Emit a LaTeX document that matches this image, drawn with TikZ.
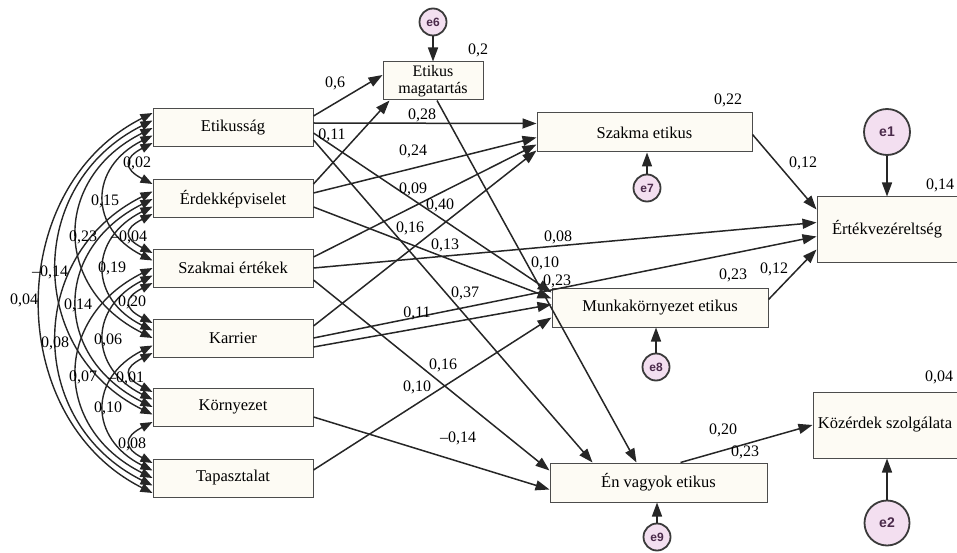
\documentclass[tikz,border=0pt]{standalone}
\usepackage{fontspec}
\setmainfont{Liberation Serif}
\newfontfamily\esans{Liberation Sans}
\usetikzlibrary{arrows.meta,calc}
\definecolor{boxfill}{HTML}{FDFBF4}
\definecolor{efill}{HTML}{F3DFF0}
\definecolor{eborder}{HTML}{3A3A3A}
\definecolor{etext}{HTML}{4A2A4A}
\begin{document}
\begin{tikzpicture}[x=1pt,y=-1pt,
  vbox/.style={draw=black!70, fill=boxfill, line width=1pt, minimum height=38pt, inner sep=1pt, font=\fontsize{16.5}{18}\selectfont, align=center},
  ebub/.style={circle, draw=eborder, fill=efill, line width=1.8pt, inner sep=0pt, minimum size=27pt, font=\esans\bfseries\fontsize{12}{12}\selectfont, text=etext},
  lbl/.style={font=\fontsize{16}{18}\selectfont, inner sep=1pt},
  reg/.style={line width=1.5pt, draw=black!85, -{Triangle[length=14pt,width=10pt]}},
  cov/.style={line width=1.4pt, draw=black!85, {Triangle[length=12pt,width=9pt]}-{Triangle[length=12pt,width=9pt]}},
]
\useasboundingbox (0,0) rectangle (957,553);

% exogenous boxes
\node[vbox, minimum width=160pt] (etik) at (233,128) {Etikusság};
\node[vbox, minimum width=160pt] (erd) at (233,199) {Érdekképviselet};
\node[vbox, minimum width=160pt] (szak) at (233,268) {Szakmai értékek};
\node[vbox, minimum width=160pt] (karr) at (233,338) {Karrier};
\node[vbox, minimum width=160pt] (korny) at (233,407) {Környezet};
\node[vbox, minimum width=160pt] (tap) at (233,478) {Tapasztalat};

% endogenous boxes
\node[vbox, minimum width=100pt, font=\fontsize{16}{17}\selectfont] (em) at (433,81) {Etikus\\magatartás};
\node[vbox, minimum width=215pt, minimum height=39pt] (se) at (644.5,132.5) {Szakma etikus};
\node[vbox, minimum width=140pt, minimum height=65pt] (ev) at (887,229.5) {Értékvezéreltség};
\node[vbox, minimum width=216pt, minimum height=39pt] (mk) at (660,307.5) {Munkakörnyezet etikus};
\node[vbox, minimum width=217pt, minimum height=39pt] (env) at (658.5,482.5) {Én vagyok etikus};
\node[vbox, minimum width=144pt, minimum height=66pt] (ksz) at (885,425) {Közérdek szolgálata};

% error terms
\node[ebub] (e6) at (433,22) {e6};
\node[ebub] (e7) at (647,188) {e7};
\node[ebub, minimum size=46pt, font=\esans\bfseries\fontsize{14}{14}\selectfont] (e1) at (887,132) {e1};
\node[ebub] (e8) at (656,367) {e8};
\node[ebub] (e9) at (657,537) {e9};
\node[ebub, minimum size=45pt, font=\esans\bfseries\fontsize{14}{14}\selectfont] (e2) at (887,523) {e2};

% covariances (left)
% span 1
\draw[cov] ($(etik.west)+(0,15)$) .. controls +(-29,15) and +(-29,-15) .. ($(erd.west)+(0,-15)$);
\draw[cov] ($(erd.west)+(0,15)$) .. controls +(-29,15) and +(-29,-15) .. ($(szak.west)+(0,-15)$);
\draw[cov] ($(szak.west)+(0,15)$) .. controls +(-29,15) and +(-29,-15) .. ($(karr.west)+(0,-15)$);
\draw[cov] ($(karr.west)+(0,15)$) .. controls +(-29,15) and +(-29,-15) .. ($(korny.west)+(0,-15)$);
\draw[cov] ($(korny.west)+(0,15)$) .. controls +(-29,15) and +(-29,-15) .. ($(tap.west)+(0,-15)$);
% span 2
\draw[cov] ($(etik.west)+(0,7.5)$) .. controls +(-64,32) and +(-64,-32) .. ($(szak.west)+(0,-7.5)$);
\draw[cov] ($(erd.west)+(0,7.5)$) .. controls +(-64,32) and +(-64,-32) .. ($(karr.west)+(0,-7.5)$);
\draw[cov] ($(szak.west)+(0,7.5)$) .. controls +(-64,32) and +(-64,-32) .. ($(korny.west)+(0,-7.5)$);
\draw[cov] ($(karr.west)+(0,7.5)$) .. controls +(-64,32) and +(-64,-32) .. ($(tap.west)+(0,-7.5)$);
% span 3
\draw[cov] (etik.west) .. controls +(-100,50) and +(-100,-50) .. (karr.west);
\draw[cov] (erd.west) .. controls +(-100,50) and +(-100,-50) .. (korny.west);
\draw[cov] (szak.west) .. controls +(-100,50) and +(-100,-50) .. (tap.west);
% span 4
\draw[cov] ($(etik.west)+(0,-7.5)$) .. controls +(-127,63) and +(-127,-63) .. ($(korny.west)+(0,7.5)$);
\draw[cov] ($(erd.west)+(0,-7.5)$) .. controls +(-127,63) and +(-127,-63) .. ($(tap.west)+(0,7.5)$);
% span 5
\draw[cov] ($(etik.west)+(0,-15)$) .. controls +(-149,75) and +(-149,-75) .. ($(tap.west)+(0,15)$);

% regression paths
\draw[reg] ($(etik.east)+(0,-12)$) -- ($(em.west)+(0,-6)$);
\draw[reg] ($(etik.east)+(0,-5)$) -- ($(se.west)+(0,-9)$);
\draw[reg] ($(etik.east)+(0,5)$) -- ($(mk.west)+(0,-15)$);
\draw[reg] ($(etik.east)+(0,12)$) -- ($(env.north west)+(43,0)$);
\draw[reg] ($(erd.east)+(0,-15)$) -- ($(em.south west)+(7,0)$);
\draw[reg] ($(erd.east)+(0,-6)$) -- ($(se.west)+(0,5)$);
\draw[reg] ($(erd.east)+(0,8)$) -- ($(mk.west)+(0,-9)$);
\draw[reg] ($(szak.east)+(0,-11)$) -- ($(se.west)+(0,12)$);
\draw[reg] (szak.east) -- ($(ev.west)+(0,-7)$);
\draw[reg] ($(szak.east)+(0,12)$) -- ($(env.west)+(0,-12)$);
\draw[reg] ($(karr.east)+(0,-12)$) -- ($(se.west)+(0,18)$);
\draw[reg] (karr.east) -- ($(ev.west)+(0,7)$);
\draw[reg] ($(karr.east)+(0,9)$) -- ($(mk.west)+(0,-3)$);
\draw[reg] ($(korny.east)+(0,10)$) -- ($(env.west)+(0,7)$);
\draw[reg] ($(tap.east)+(0,-8)$) -- ($(mk.west)+(0,10)$);
\draw[reg] ($(em.south)+(4,0)$) -- ($(env.north west)+(87,0)$);
\draw[reg] ($(se.east)+(0,2)$) -- ($(ev.west)+(0,-20)$);
\draw[reg] ($(mk.east)+(0,-8)$) -- ($(ev.west)+(0,20)$);
\draw[reg] ($(env.north east)+(-87,0)$) -- (ksz.west);

% error arrows
\draw[reg] (e6.south) -- (e6.south |- em.north);
\draw[reg] (e7.north) -- (e7.north |- se.south);
\draw[reg] (e1.south) -- (e1.south |- ev.north);
\draw[reg] (e8.north) -- (e8.north |- mk.south);
\draw[reg] (e9.north) -- (e9.north |- env.south);
\draw[reg] (e2.north) -- (e2.north |- ksz.south);

% path coefficient labels
\node[lbl] (r1) at (478,50) {0,2};
\node[lbl] (p1) at (335,83) {0,6};
\node[lbl] (p2) at (422,115) {0,28};
\node[lbl] (p3) at (332,135) {0,11};
\node[lbl] (p4) at (413,151) {0,24};
\node[lbl] (p5) at (413,189) {0,09};
\node[lbl] (p6) at (440,205) {0,40};
\node[lbl] (p7) at (410,228) {0,16};
\node[lbl] (p8) at (445,245) {0,13};
\node[lbl] (p9) at (558,237) {0,08};
\node[lbl] (p10) at (545,263) {0,10};
\node[lbl] (p11) at (557,281) {0,23};
\node[lbl] (p12) at (465,293) {0,37};
\node[lbl] (p13) at (417,313) {0,11};
\node[lbl] (p14) at (443,365) {0,16};
\node[lbl] (p15) at (417,387) {0,10};
\node[lbl] (p16) at (458,438) {\textendash0,14};
\node[lbl] (r2) at (728,100) {0,22};
\node[lbl] (p17) at (803,163) {0,12};
\node[lbl] (r3) at (940,185) {0,14};
\node[lbl] (r4) at (733,275) {0,23};
\node[lbl] (p18) at (774,269) {0,12};
\node[lbl] (r5) at (939,377) {0,04};
\node[lbl] (p19) at (723,430) {0,20};
\node[lbl] (r6) at (745,452) {0,23};

% covariance labels
\node[lbl] (c1) at (137,163) {0,02};
\node[lbl] (c2) at (105,201) {0,15};
\node[lbl] (c3) at (83,237) {0,23};
\node[lbl] (c4) at (129,237) {\textendash0,04};
\node[lbl] (c5) at (112,268) {0,19};
\node[lbl] (c6) at (50,272) {\textendash0,14};
\node[lbl] (c7) at (24,300) {0,04};
\node[lbl] (c8) at (78,305) {0,14};
\node[lbl] (c9) at (132,302) {0,20};
\node[lbl] (c10) at (55,343) {0,08};
\node[lbl] (c11) at (108,340) {0,06};
\node[lbl] (c12) at (83,377) {0,07};
\node[lbl] (c13) at (126,378) {\textendash0,01};
\node[lbl] (c14) at (108,408) {0,10};
\node[lbl] (c15) at (132,444) {0,08};
\end{tikzpicture}
\end{document}
